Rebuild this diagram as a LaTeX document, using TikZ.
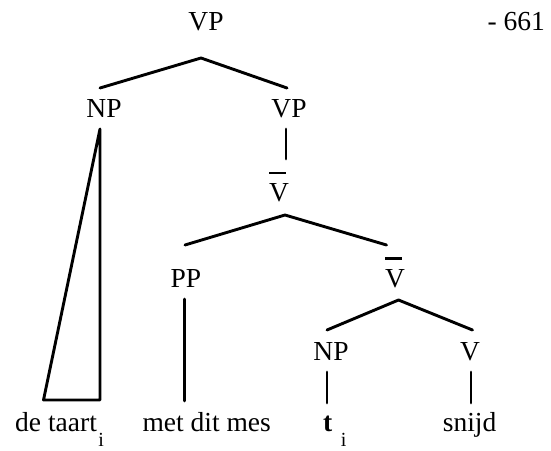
\documentclass[tikz,border=0pt]{standalone}
\usepackage{fontspec}
\setmainfont{Liberation Serif}
\begin{document}
\begin{tikzpicture}[x=1pt,y=-1pt,
  lbl/.style={inner sep=0pt, anchor=base, font=\fontsize{27.5}{30}\selectfont},
  sub/.style={inner sep=0pt, anchor=base west, font=\fontsize{20}{22}\selectfont},
  edge/.style={line width=2.9pt, line cap=round, line join=round},
  barline/.style={line width=2.6pt}]
\useasboundingbox (0,0) rectangle (551,450);

% category labels
\node[lbl] (vp0) at (206,30.5) {VP};
\node[lbl, anchor=base east] (page) at (545,30.5) {- 661};
\node[lbl] (np1) at (104,117) {NP};
\node[lbl] (vp1) at (289,117) {VP};
\node[lbl] (vb1) at (279,201.7) {V};
\node[lbl] (pp) at (186,287) {PP};
\node[lbl] (vb2) at (395,287) {V};
\node[lbl] (np2) at (331,360) {NP};
\node[lbl] (v) at (470,360) {V};

% bars over the V-bar labels
\draw[barline] ([xshift=-10pt,yshift=10.5pt]vb1.north) -- ([xshift=7pt,yshift=10.5pt]vb1.north);
\draw[barline] ([xshift=-10pt,yshift=10.5pt]vb2.north) -- ([xshift=7pt,yshift=10.5pt]vb2.north);

% terminal words
\node[lbl, anchor=base west] (w1) at (15,431.7) {de taart};
\node[sub] (i1) at ([xshift=1pt,yshift=-15pt]w1.base east) {i};
\node[lbl, anchor=base west] (w2) at (142.3,431.7) {met dit mes};
\node[lbl, anchor=base west] (w3) at (323,431.7) {\bfseries t};
\node[sub] (i2) at ([xshift=8pt,yshift=-15pt]w3.base east) {i};
\node[lbl, anchor=base west] (w4) at (442.7,431.7) {snijd};

% branch points
\coordinate (t0) at (201,58);
\coordinate (t0l) at (100,88);
\coordinate (t0r) at (287,88);
\coordinate (tri) at (100,129);
\coordinate (tril) at (43.5,400);
\coordinate (trir) at (100,400);
\coordinate (vpa) at (286,129);
\coordinate (vpb) at (286,159);
\coordinate (t1) at (285,215);
\coordinate (t1l) at (185,245);
\coordinate (t1r) at (386.5,245);
\coordinate (ppa) at (184.5,299);
\coordinate (ppb) at (184.5,401);
\coordinate (t2) at (398.5,300);
\coordinate (t2l) at (327,330);
\coordinate (t2r) at (472.5,330);
\coordinate (npa) at (327,372);
\coordinate (npb) at (327,403);
\coordinate (va) at (471,372);
\coordinate (vb) at (471,403);

% tree edges
\draw[edge] (t0l) -- (t0) -- (t0r);
\draw[edge] (tri) -- (tril) -- (trir) -- cycle;
\draw[edge] (vpa) -- (vpb);
\draw[edge] (t1l) -- (t1) -- (t1r);
\draw[edge] (ppa) -- (ppb);
\draw[edge] (t2l) -- (t2) -- (t2r);
\draw[edge] (npa) -- (npb);
\draw[edge] (va) -- (vb);
\end{tikzpicture}
\end{document}
